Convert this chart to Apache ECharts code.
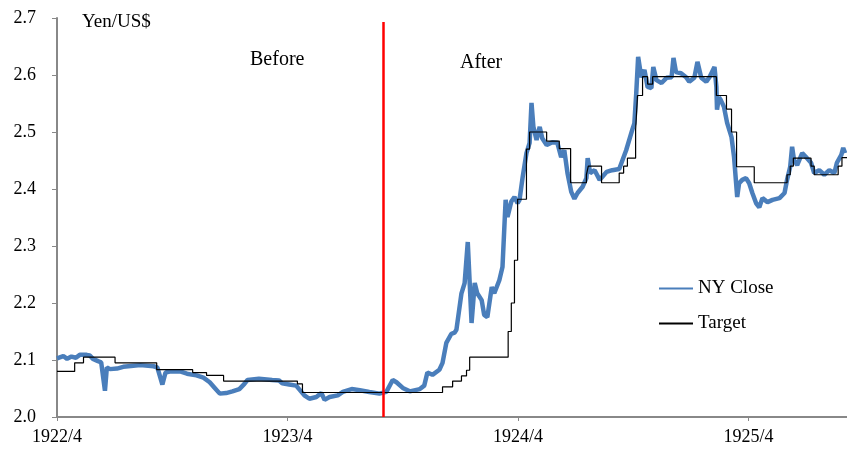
<!DOCTYPE html>
<html>
<head>
<meta charset="utf-8">
<script src="https://cdn.jsdelivr.net/npm/echarts@6/dist/echarts.min.js"></script>
<style>
html,body{margin:0;padding:0;background:#fff;}
#c{width:847px;height:449px;}
</style>
</head>
<body>
<div id="c"></div>
<script>
// ---- data ----
var tickLabels = ['1922/4', '1923/4', '1924/4', '1925/4'];
var yTicks = [2.0, 2.1, 2.2, 2.3, 2.4, 2.5, 2.6, 2.7];
var eventDate = '1923-08-31';

var nyDates = [
'1922-04-01','1922-04-11','1922-04-17','1922-04-24','1922-05-01','1922-05-07','1922-05-18','1922-05-23','1922-05-28','1922-06-05',
'1922-06-10','1922-06-13','1922-06-16','1922-06-19','1922-06-24','1922-07-05','1922-07-15','1922-07-31','1922-08-11','1922-09-01',
'1922-09-07','1922-09-15','1922-09-20','1922-09-28','1922-10-13','1922-10-24','1922-11-08','1922-11-19','1922-11-29','1922-12-07',
'1922-12-15','1922-12-25','1923-01-04','1923-01-15','1923-01-23','1923-01-28','1923-02-15','1923-03-08','1923-03-19','1923-03-24',
'1923-04-04','1923-04-15','1923-04-17','1923-04-28','1923-05-06','1923-05-17','1923-05-25','1923-05-30','1923-06-07','1923-06-20',
'1923-06-28','1923-07-12','1923-07-25','1923-08-09','1923-08-25','1923-09-05','1923-09-15','1923-09-21','1923-10-01','1923-10-12',
'1923-10-28','1923-11-04','1923-11-09','1923-11-17','1923-11-28','1923-12-03','1923-12-09','1923-12-17','1923-12-22','1923-12-25',
'1924-01-02','1924-01-07','1924-01-12','1924-01-18','1924-01-23','1924-01-27','1924-02-03','1924-02-07','1924-02-12','1924-02-19',
'1924-02-23','1924-03-02','1924-03-07','1924-03-12','1924-03-15','1924-03-21','1924-03-26','1924-03-31','1924-04-03','1924-04-08',
'1924-04-14','1924-04-19','1924-04-22','1924-04-25','1924-04-30','1924-05-05','1924-05-09','1924-05-16','1924-05-25','1924-06-02',
'1924-06-08','1924-06-13','1924-06-18','1924-06-24','1924-06-29','1924-07-04','1924-07-12','1924-07-18','1924-07-20','1924-07-24',
'1924-07-31','1924-08-08','1924-08-12','1924-08-19','1924-08-28','1924-09-08','1924-09-19','1924-09-29','1924-10-02','1924-10-05',
'1924-10-08','1924-10-13','1924-10-18','1924-10-23','1924-10-29','1924-11-01','1924-11-06','1924-11-14','1924-11-22','1924-11-30',
'1924-12-03','1924-12-07','1924-12-15','1924-12-23','1924-12-28','1925-01-05','1925-01-10','1925-01-16','1925-01-24','1925-01-29',
'1925-02-06','1925-02-09','1925-02-10','1925-02-13','1925-02-16','1925-02-21','1925-02-26','1925-03-05','1925-03-09','1925-03-14',
'1925-03-17','1925-03-22','1925-03-28','1925-04-02','1925-04-07','1925-04-13','1925-04-18','1925-04-23','1925-05-01','1925-05-09',
'1925-05-20','1925-05-28','1925-06-01','1925-06-06','1925-06-09','1925-06-12','1925-06-17','1925-06-25','1925-07-01','1925-07-09',
'1925-07-14','1925-07-22','1925-07-30','1925-08-07','1925-08-15','1925-08-19','1925-08-26','1925-08-29','1925-09-01'
];
var nyClose = [
2.103,2.107,2.102,2.106,2.104,2.109,2.109,2.108,2.102,2.098,
2.096,2.093,2.046,2.087,2.084,2.085,2.088,2.090,2.091,2.089,
2.087,2.057,2.078,2.080,2.080,2.076,2.073,2.069,2.061,2.051,
2.041,2.042,2.045,2.049,2.058,2.065,2.067,2.065,2.064,2.059,
2.057,2.055,2.055,2.038,2.032,2.035,2.042,2.030,2.035,2.038,
2.044,2.049,2.047,2.044,2.041,2.044,2.065,2.061,2.051,2.045,
2.049,2.055,2.078,2.074,2.083,2.095,2.130,2.146,2.148,2.153,
2.217,2.235,2.307,2.165,2.235,2.217,2.205,2.179,2.175,2.228,
2.217,2.240,2.263,2.381,2.351,2.378,2.386,2.375,2.381,2.421,
2.463,2.481,2.551,2.509,2.486,2.509,2.489,2.477,2.482,2.481,
2.456,2.468,2.428,2.395,2.383,2.393,2.404,2.419,2.454,2.428,
2.433,2.416,2.421,2.430,2.433,2.435,2.468,2.505,2.515,2.568,
2.632,2.596,2.609,2.579,2.577,2.614,2.591,2.586,2.595,2.596,
2.630,2.605,2.603,2.596,2.588,2.595,2.623,2.595,2.588,2.596,
2.614,2.579,2.539,2.561,2.556,2.544,2.516,2.491,2.456,2.386,
2.410,2.416,2.419,2.410,2.393,2.375,2.368,2.384,2.377,2.381,
2.384,2.393,2.416,2.439,2.474,2.451,2.442,2.463,2.456,2.446,
2.428,2.433,2.425,2.433,2.428,2.446,2.460,2.472,2.463
];

var targetDates = [
'1922-04-01','1922-04-29','1922-05-13','1922-07-02','1922-09-06','1922-11-02','1922-11-24','1922-12-21','1923-04-17','1923-04-25',
'1923-12-03','1923-12-19','1924-01-02','1924-01-10','1924-01-15','1924-03-16','1924-03-21','1924-03-26','1924-03-31','1924-04-14',
'1924-04-19','1924-05-16','1924-06-05','1924-06-23','1924-07-18','1924-07-21','1924-08-11','1924-09-08','1924-09-15','1924-09-21',
'1924-10-04','1924-10-07','1924-10-15','1924-10-23','1924-10-31','1925-02-09','1925-02-25','1925-03-05','1925-03-13','1925-04-10',
'1925-06-01','1925-06-06','1925-06-11','1925-07-09','1925-07-14','1925-08-21','1925-08-27','1925-09-04'
];
var target = [
2.080,2.095,2.105,2.095,2.083,2.078,2.073,2.063,2.058,2.043,
2.053,2.063,2.072,2.082,2.105,2.150,2.200,2.275,2.382,2.470,
2.500,2.484,2.471,2.411,2.425,2.440,2.411,2.428,2.440,2.454,
2.504,2.564,2.597,2.584,2.597,2.564,2.540,2.500,2.439,2.411,
2.425,2.440,2.454,2.440,2.425,2.440,2.455,2.455
];

var xMin = '1922-04-01', xMax = '1925-09-04';
var seriesNames = ['NY Close', 'Target'];
var texts = { unit: 'Yen/US$', before: 'Before', after: 'After' };

// ---- build: x as days since xMin ----
function dayOf(s) {
  var p = s.split(/[-\/]/).map(Number);
  return Date.UTC(p[0], p[1] - 1, p[2] || 1) / 86400000;
}
var d0 = dayOf(xMin);
function dx(s) { return dayOf(s) - d0; }
function zip(a, b) { return a.map(function (d, i) { return [dx(d), b[i]]; }); }

var FONT = 'Liberation Serif';
var YEAR = 365.25;
var chart = echarts.init(document.getElementById('c'), null, { renderer: 'canvas' });
chart.setOption({
  animation: false,
  backgroundColor: '#fff',
  grid: { left: 57, right: 0, top: 18, bottom: 32 },
  xAxis: {
    type: 'value',
    min: 0,
    max: dx(xMax),
    interval: YEAR,
    splitLine: { show: false },
    axisLine: { lineStyle: { color: '#888', width: 2 } },
    axisTick: { show: true, length: 4, lineStyle: { color: '#888', width: 1 } },
    axisLabel: {
      showMaxLabel: false,
      color: '#000', fontFamily: FONT, fontSize: 18, margin: 11,
      formatter: function (v) {
        var k = v / YEAR, r = Math.round(k);
        if (Math.abs(k - r) > 0.01 || r >= tickLabels.length) return '';
        return tickLabels[r];
      }
    }
  },
  yAxis: {
    type: 'value',
    min: yTicks[0], max: yTicks[yTicks.length - 1], interval: 0.1,
    splitLine: { show: false },
    axisLine: { show: true, lineStyle: { color: '#888', width: 2 } },
    axisTick: { show: true, length: 5, lineStyle: { color: '#888', width: 1 } },
    axisLabel: {
      color: '#000', fontFamily: FONT, fontSize: 18, margin: 21,
      formatter: function (v) { return v.toFixed(1); }
    }
  },
  legend: {
    orient: 'vertical',
    left: 653, top: 274,
    padding: 5,
    itemWidth: 34, itemHeight: 14, itemGap: 16,
    itemStyle: { opacity: 0 },
    textStyle: { color: '#000', fontFamily: FONT, fontSize: 19 },
    data: seriesNames
  },
  graphic: [
    { type: 'text', left: 82, top: 13, style: { text: texts.unit, font: '19px "Liberation Serif"', fill: '#000' } },
    { type: 'text', left: 250, top: 50, style: { text: texts.before, font: '20px "Liberation Serif"', fill: '#000' } },
    { type: 'text', left: 460, top: 53, style: { text: texts.after, font: '20px "Liberation Serif"', fill: '#000' } }
  ],
  series: [
    {
      name: seriesNames[0], type: 'line', symbol: 'none', z: 3,
      data: zip(nyDates, nyClose),
      lineStyle: { color: '#4a7ebb', width: 4.5 },
      itemStyle: { color: '#4a7ebb' },
      markLine: {
        silent: true, symbol: ['none', 'none'], label: { show: false },
        lineStyle: { color: '#ff0000', width: 2.5, type: 'solid' },
        data: [[{ coord: [dx(eventDate), 2.0] }, { coord: [dx(eventDate), 2.693] }]]
      }
    },
    {
      name: seriesNames[1], type: 'line', symbol: 'none', step: 'end', z: 4,
      data: zip(targetDates, target),
      lineStyle: { color: '#000', width: 1.2 },
      itemStyle: { color: '#000' }
    }
  ]
});
</script>
</body>
</html>
